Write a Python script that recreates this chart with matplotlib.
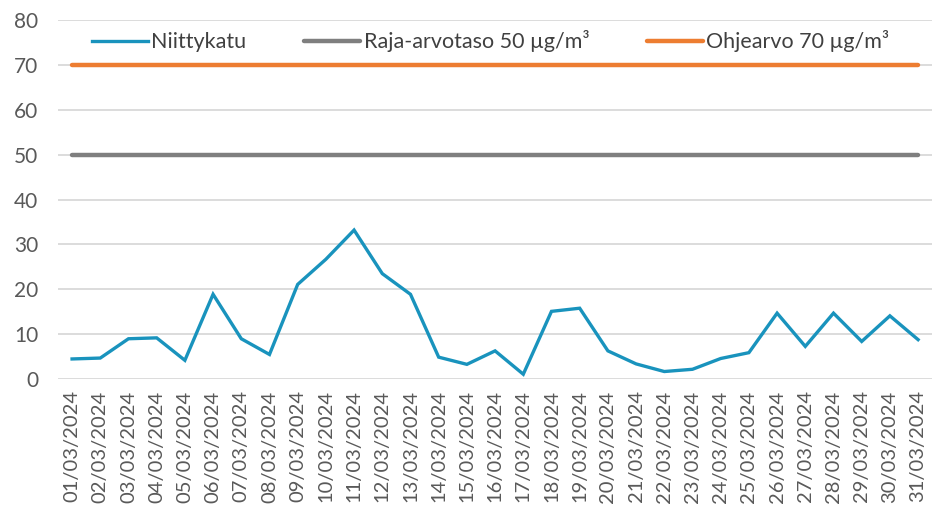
import matplotlib
matplotlib.use("Agg")
import matplotlib.pyplot as plt

dates = ["%02d/03/2024" % d for d in range(1, 32)]
niittykatu = [4.5, 4.7, 9.0, 9.2, 4.2, 18.9, 9.0, 5.5, 21.1, 26.7, 33.2,
              23.5, 18.9, 4.9, 3.3, 6.3, 1.1, 15.1, 15.8, 6.3, 3.4, 1.7,
              2.2, 4.6, 5.9, 14.7, 7.3, 14.7, 8.4, 14.1, 8.8]
raja = [50] * len(dates)
ohje = [70] * len(dates)

plt.rcParams['font.family'] = ['Lato', 'DejaVu Sans']

fig = plt.figure(figsize=(9.35, 5.11), dpi=100)
ax = fig.add_axes([0.062, 0.258, 0.935, 0.703])

x = list(range(len(dates)))
l1, = ax.plot(x, niittykatu, color='#1993BD', lw=2.4, label='Niittykatu', solid_joinstyle='miter')
l2, = ax.plot(x, raja, color='#7F7F7F', lw=3.2, label='Raja-arvotaso 50 µg/m³', solid_capstyle='round')
l3, = ax.plot(x, ohje, color='#ED7D31', lw=3.2, label='Ohjearvo 70 µg/m³', solid_capstyle='round')

ax.set_xlim(-0.5, len(dates) - 0.5)
ax.set_ylim(0, 80)
ax.set_yticks(range(0, 81, 10))
ax.set_xticks(x)
ax.set_xticklabels(dates, rotation=90, fontsize=14.5, color='#595959')
ax.tick_params(axis='y', labelsize=15, labelcolor='#595959', length=0, pad=14)
ax.tick_params(axis='x', length=0, pad=8)
ax.grid(axis='y', color='#D9D9D9', lw=1.3)
ax.set_axisbelow(True)
for s in ax.spines.values():
    s.set_visible(False)

leg = ax.legend(handles=[l1, l2, l3], loc='center', bbox_to_anchor=(0.495, 0.94),
                ncol=3, frameon=False, handlelength=2.6, handletextpad=0.15,
                columnspacing=2.7, prop={'size': 15.5})
for t in leg.get_texts():
    t.set_color('#404040')

fig.savefig('out.png', dpi=100)
